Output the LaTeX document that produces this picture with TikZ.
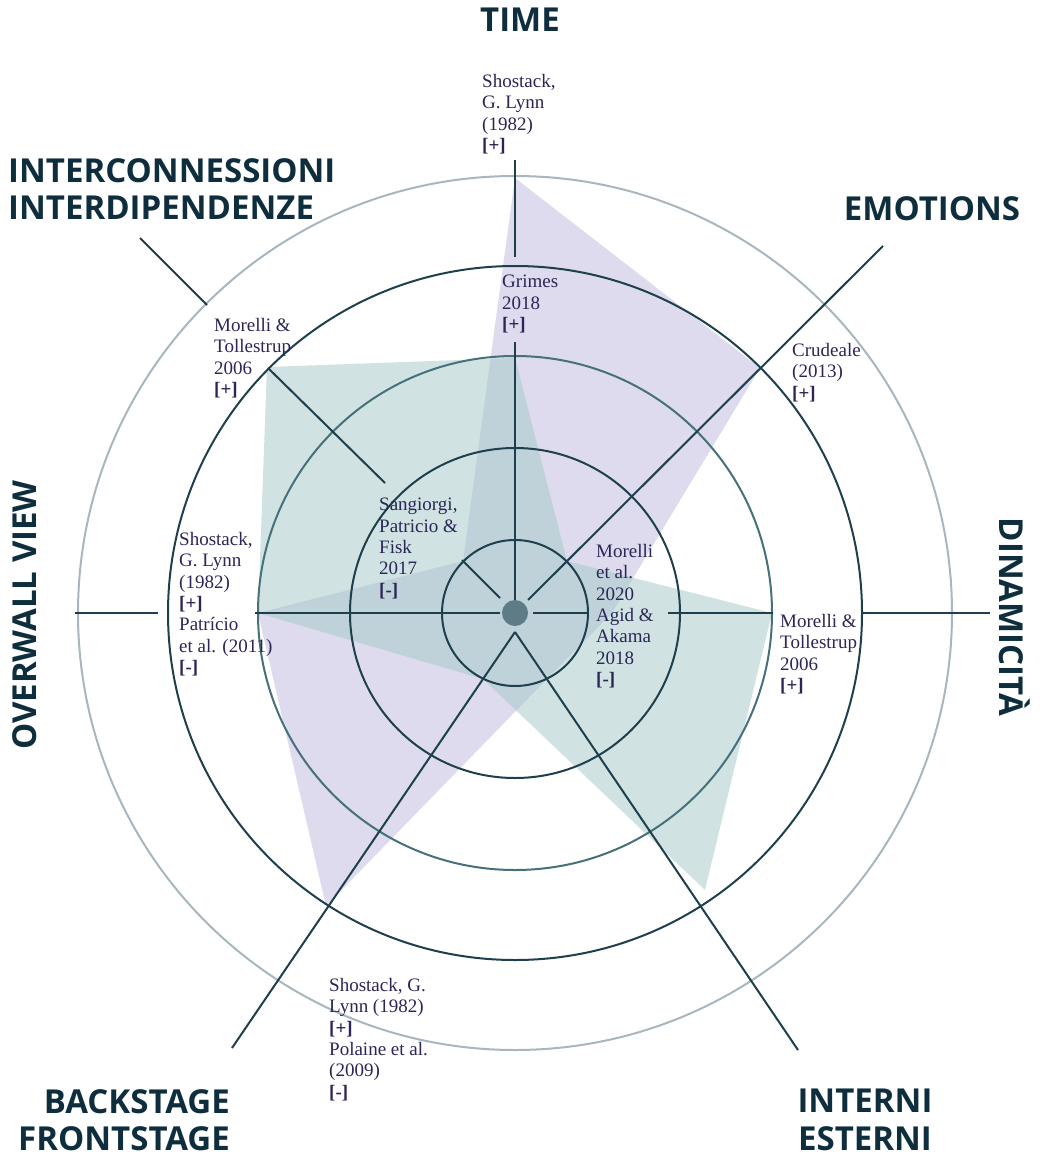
\documentclass[tikz,border=0pt]{standalone}
\usepackage{fontspec}
\setmainfont{Liberation Serif}
\newfontfamily\headfont{Open Sans}
\definecolor{axisline}{HTML}{1E3F4C}
\definecolor{ringmid}{HTML}{46707A}
\definecolor{ringgray}{HTML}{A8B7BD}
\definecolor{citeink}{HTML}{2A2656}
\definecolor{headink}{HTML}{0E2E3E}
\definecolor{hubfill}{HTML}{5E7C86}
\definecolor{purplefill}{RGB}{221,219,237}
\definecolor{tealfill}{RGB}{166,202,200}
\tikzset{
    ring/.style={draw=axisline, line width=2pt},
    spoke/.style={draw=axisline, line width=2pt},
    cite/.style={anchor=north west, inner sep=0pt, align=left, text=citeink,
            font=\fontsize{19}{21.4}\selectfont},
    axislabel/.style={inner sep=0pt, text=headink,
            font=\headfont\bfseries\fontsize{33}{37.5}\selectfont},
}

\begin{document}
\begin{tikzpicture}[x=1pt, y=-1pt]
        \useasboundingbox (0,0) rectangle (1041,1161);
        %centre of the chart
        \coordinate (c) at (515,613);
        %first profile (purple)
        \fill[purplefill] (515,178) -- (760,368) -- (612,613) -- (547,679)
            -- (326,906) -- (258,613) -- (463,561) -- cycle;
        %second profile (teal)
        \fill[tealfill, fill opacity=0.53] (515,358) -- (567,561) -- (772,613)
            -- (705,890) -- (483,679) -- (258,613) -- (267,367) -- cycle;
        %draw rings
        \draw[ring] (c) circle[radius=73pt];
        \draw[ring] (c) circle[radius=165pt];
        \draw[ring, draw=ringmid] (c) circle[radius=257pt];
        \draw[ring] (c) circle[radius=347pt];
        \draw[ring, draw=ringgray] (c) circle[radius=437pt];
        %draw spokes
        \draw[spoke] (515,160) -- (515,257);
        \draw[spoke] (515,342) -- (515,600);
        \draw[spoke] (528,600) -- (883,246);
        \draw[spoke] (533,613) -- (588,613);
        \draw[spoke] (668,613) -- (773,613);
        \draw[spoke] (863,613) -- (990,613);
        \draw[spoke] (75,613) -- (158,613);
        \draw[spoke] (255,613) -- (500,613);
        \draw[spoke] (500,598) -- (462,560);
        \draw[spoke] (385,483) -- (268,368);
        \draw[spoke] (207,305) -- (140,238);
        \draw[spoke] (515,632) -- (232,1048);
        \draw[spoke] (515,632) -- (798,1050);
        %hub
        \fill[hubfill] (c) circle[radius=13pt];
        %label axes
        \node[axislabel] (time) at (520,20) {TIME};
        \node[axislabel, anchor=north west, align=left] (inter) at (8,158) {INTERCONNESSIONI\\INTERDIPENDENZE};
        \node[axislabel] (emotions) at (932,209) {EMOTIONS};
        \node[axislabel, rotate=-90] (dinam) at (1015,617) {DINAMICITÀ};
        \node[axislabel, rotate=90] (overall) at (25,615) {OVERWALL VIEW};
        \node[axislabel, anchor=north east, align=right] (stage) at (230,1089) {BACKSTAGE\\FRONTSTAGE};
        \node[axislabel, anchor=north, align=center] (inext) at (865,1089) {INTERNI\\ESTERNI};
        %label sources
        \node[cite] (timeout) at (482,74) {Shostack,\\G. Lynn\\(1982)\\\textbf{[+]}};
        \node[cite] (timein) at (502,275) {Grimes\\2018\\\textbf{[+]}};
        \node[cite] (emot) at (792,343) {Crudeale\\(2013)\\\textbf{[+]}};
        \node[cite] (dinout) at (780,614) {Morelli \&\\Tollestrup\\2006\\\textbf{[+]}};
        \node[cite] (dinin) at (596,544) {Morelli\\et al.\\2020\\Agid \&\\Akama\\2018\\\textbf{[-]}};
        \node[cite] (interin) at (379,498) {Sangiorgi,\\Patricio \&\\Fisk\\2017\\\textbf{[-]}};
        \node[cite] (interout) at (214,318) {Morelli \&\\Tollestrup\\2006\\\textbf{[+]}};
        \node[cite] (overw) at (179,532) {Shostack,\\G. Lynn\\(1982)\\\textbf{[+]}\\Patrício\\et al. (2011)\\\textbf{[-]}};
        \node[cite] (back) at (329,978) {Shostack, G.\\Lynn (1982)\\\textbf{[+]}\\Polaine et al.\\(2009)\\\textbf{[-]}};
    \end{tikzpicture}
\end{document}
